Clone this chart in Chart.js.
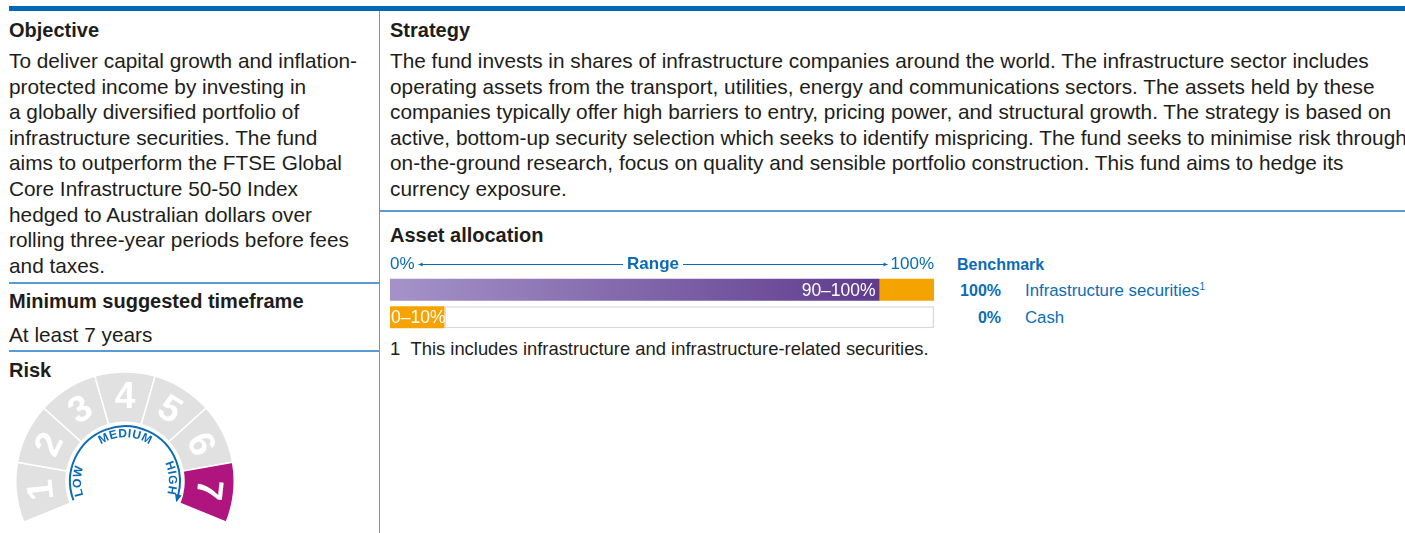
<!DOCTYPE html>
<html>
<head>
<meta charset="utf-8">
<script src="https://cdn.jsdelivr.net/npm/chart.js@4"></script>
<style>
  body { margin: 0; width: 1405px; height: 533px; overflow: hidden; background: #fff;
         font-family: "Liberation Sans", Arial, sans-serif; color: #1d1d1b; position: relative; }
  .a { position: absolute; white-space: nowrap; }
  .h { font-weight: bold; font-size: 20px; line-height: 24px; }
  .t { font-size: 20.8px; line-height: 25.6px; }
  .blue { color: #0b6cb5; }
  .rule { position: absolute; background: #5b9bd5; }
  canvas { position: absolute; }
</style>
</head>
<body>
<div class="a" style="left:9px;top:6px;width:1396px;height:5px;background:#0068b4"></div>
<div class="rule" style="left:379px;top:11px;width:1px;height:522px"></div>

<!-- left column -->
<div class="a h" style="left:9px;top:18px">Objective</div>
<div class="a t" style="left:9px;top:48px">To deliver capital growth and inflation-<br>protected income by investing in<br>a globally diversified portfolio of<br>infrastructure securities. The fund<br>aims to outperform the FTSE Global<br>Core Infrastructure 50-50 Index<br>hedged to Australian dollars over<br>rolling three-year periods before fees<br>and taxes.</div>
<div class="rule" style="left:9px;top:282px;width:370px;height:2px"></div>
<div class="a h" style="left:9px;top:289px">Minimum suggested timeframe</div>
<div class="a t" style="left:9px;top:322px">At least 7 years</div>
<div class="rule" style="left:9px;top:350px;width:370px;height:2px"></div>
<div class="a h" style="left:9px;top:358px">Risk</div>
<canvas id="riskChart" width="220" height="152" style="left:15px;top:371px"></canvas>

<!-- right column -->
<div class="a h" style="left:390px;top:18px">Strategy</div>
<div class="a t" style="left:390px;top:48px">The fund invests in shares of infrastructure companies around the world. The infrastructure sector includes<br>operating assets from the transport, utilities, energy and communications sectors. The assets held by these<br>companies typically offer high barriers to entry, pricing power, and structural growth. The strategy is based on<br>active, bottom-up security selection which seeks to identify mispricing. The fund seeks to minimise risk through<br>on-the-ground research, focus on quality and sensible portfolio construction. This fund aims to hedge its<br>currency exposure.</div>
<div class="rule" style="left:380px;top:210px;width:1025px;height:2px"></div>
<div class="a h" style="left:390px;top:223px">Asset allocation</div>
<canvas id="allocChart" width="570" height="86" style="left:380px;top:250px"></canvas>
<div class="a" style="left:390px;top:338px;font-size:18.4px;line-height:22px">1&nbsp;&nbsp;This includes infrastructure and infrastructure-related securities.</div>

<div id="bench"></div>

<script>
// asset allocation ranges (%)
const categories = ['Infrastructure securities', 'Cash'];
const rangeMin = [90, 0];
const rangeMax = [100, 10];
const rangeLabels = ['90–100%', '0–10%'];
const benchmark = [100, 0];
const footnotes = ['1', ''];

// risk gauge
const riskLevels = ['1', '2', '3', '4', '5', '6', '7'];
const riskSegments = [1, 1, 1, 1, 1, 1, 1];
const fundRisk = 7;
const riskBands = ['LOW', 'MEDIUM', 'HIGH'];

const BLUE = '#0b6cb5';
const ORANGE = '#f5a300';
const FONT = '"Liberation Sans", Arial, sans-serif';

// benchmark table
const bench = document.getElementById('bench');
let html = '<div class="a blue" style="left:957px;top:255px;font-size:16px;line-height:20px;font-weight:bold">Benchmark</div>';
categories.forEach((c, i) => {
    const top = 281 + i * 27;
    html += '<div class="a blue" style="left:950px;width:51px;text-align:right;top:' + top + 'px;font-size:16px;line-height:20px;font-weight:bold">' + benchmark[i] + '%</div>';
    html += '<div class="a blue" style="left:1025px;top:' + top + 'px;font-size:16.8px;line-height:20px">' + c +
        (footnotes[i] ? '<span style="position:relative;top:-6px;font-size:10px">' + footnotes[i] + '</span>' : '') + '</div>';
});
bench.innerHTML = html;

// ---- allocation bars ----
const below = rangeMin.slice();
const band = rangeMax.map((m, i) => m - rangeMin[i]);
const above = rangeMax.map(m => 100 - m);

function purpleGradient(context) {
    const chart = context.chart;
    const area = chart.chartArea;
    if (!area) return '#7b5ba8';
    const x = chart.scales.x;
    const g = chart.ctx.createLinearGradient(area.left, 0, x.getPixelForValue(rangeMin[0]), 0);
    g.addColorStop(0, '#a593c8');
    g.addColorStop(1, '#5f3b8e');
    return g;
}

const rangeHeader = {
    id: 'rangeHeader',
    afterDraw(chart) {
        const ctx = chart.ctx;
        const x = chart.scales.x;
        const y = chart.chartArea.top - 12;
        const left = x.getPixelForValue(0), right = x.getPixelForValue(100);
        ctx.save();
        ctx.fillStyle = BLUE;
        ctx.strokeStyle = BLUE;
        ctx.textBaseline = 'middle';
        ctx.font = '17px ' + FONT;
        ctx.textAlign = 'left';
        ctx.fillText('0%', left, y);
        const lEnd = left + ctx.measureText('0%').width + 4;
        ctx.textAlign = 'right';
        ctx.fillText('100%', right, y);
        const rStart = right - ctx.measureText('100%').width - 3;
        ctx.font = 'bold 17px ' + FONT;
        ctx.textAlign = 'center';
        const mid = (lEnd + rStart) / 2;
        ctx.fillText('Range', mid, y);
        const half = ctx.measureText('Range').width / 2 + 4;
        ctx.lineWidth = 1;
        ctx.beginPath();
        ctx.moveTo(lEnd, y + 0.5); ctx.lineTo(mid - half, y + 0.5);
        ctx.moveTo(mid + half, y + 0.5); ctx.lineTo(rStart, y + 0.5);
        ctx.stroke();
        ctx.beginPath();
        ctx.moveTo(lEnd, y + 0.5); ctx.lineTo(lEnd + 4, y - 1.5); ctx.lineTo(lEnd + 4, y + 2.5); ctx.closePath();
        ctx.moveTo(rStart, y + 0.5); ctx.lineTo(rStart - 4, y - 1.5); ctx.lineTo(rStart - 4, y + 2.5); ctx.closePath();
        ctx.fill();
        ctx.restore();
    }
};

const barLabels = {
    id: 'barLabels',
    afterDatasetsDraw(chart) {
        const ctx = chart.ctx;
        const x = chart.scales.x;
        const y = chart.scales.y;
        ctx.save();
        ctx.fillStyle = '#ffffff';
        ctx.font = '17.5px ' + FONT;
        ctx.textBaseline = 'middle';
        rangeLabels.forEach((lab, i) => {
            const cy = y.getPixelForValue(i) + 1;
            if (rangeMin[i] > 0) {
                ctx.textAlign = 'right';
                ctx.fillText(lab, x.getPixelForValue(rangeMin[i]) - 4, cy);
            } else {
                ctx.textAlign = 'left';
                ctx.fillText(lab, x.getPixelForValue(0) + 1, cy);
            }
        });
        ctx.restore();
    }
};

new Chart(document.getElementById('allocChart'), {
    type: 'bar',
    data: {
        labels: categories,
        datasets: [
            { label: 'below', data: below, backgroundColor: purpleGradient, borderWidth: 0 },
            { label: 'range', data: band, backgroundColor: ORANGE, borderWidth: 0 },
            { label: 'above', data: above, backgroundColor: '#ffffff', borderColor: '#d9d9d9',
              borderWidth: c => (c.raw > 0 ? 1.5 : 0), borderSkipped: false }
        ]
    },
    options: {
        indexAxis: 'y',
        responsive: false,
        animation: false,
        layout: { padding: { top: 26, bottom: 5, left: 10, right: 16 } },
        datasets: { bar: { barPercentage: 0.8, categoryPercentage: 1 } },
        plugins: { legend: { display: false }, tooltip: { enabled: false } },
        scales: {
            x: { stacked: true, min: 0, max: 100, display: false },
            y: { stacked: true, display: false }
        }
    },
    plugins: [rangeHeader, barLabels]
});

// ---- risk gauge ----
function arcText(ctx, text, cx, cy, r, angle) {
    const widths = [...text].map(ch => ctx.measureText(ch).width);
    const total = widths.reduce((a, b) => a + b, 0) + (text.length - 1) * 0.5;
    let a = angle - total / 2 / r;
    [...text].forEach((ch, i) => {
        const w = widths[i];
        const t = a + (w / 2) / r;
        ctx.save();
        ctx.translate(cx + Math.cos(t) * r, cy + Math.sin(t) * r);
        ctx.rotate(t + Math.PI / 2);
        ctx.fillText(ch, 0, 0);
        ctx.restore();
        a += (w + 0.5) / r;
    });
}

const gaugeDecor = {
    id: 'gaugeDecor',
    afterDatasetsDraw(chart) {
        const ctx = chart.ctx;
        const arcs = chart.getDatasetMeta(0).data;
        const cx = arcs[0].x, cy = arcs[0].y;
        const inner = arcs[0].innerRadius, outer = arcs[0].outerRadius;
        ctx.save();
        // numbers
        ctx.fillStyle = '#ffffff';
        ctx.font = 'bold 37px ' + FONT;
        ctx.textAlign = 'center';
        ctx.textBaseline = 'middle';
        arcs.forEach((arc, i) => {
            const t = (arc.startAngle + arc.endAngle) / 2;
            const r = (inner + outer) / 2 + 1;
            ctx.save();
            ctx.translate(cx + Math.cos(t) * r, cy + Math.sin(t) * r);
            ctx.rotate(t + Math.PI / 2);
            ctx.fillText(riskLevels[i], 0, 2);
            ctx.restore();
        });
        // blue arrow arc
        const start = arcs[0].startAngle + 0.03;
        const end = arcs[arcs.length - 1].endAngle - 0.12;
        const ra = inner - 4;
        ctx.strokeStyle = BLUE;
        ctx.fillStyle = BLUE;
        ctx.lineWidth = 2;
        ctx.beginPath();
        ctx.arc(cx, cy, ra, start, end);
        ctx.stroke();
        const ex = cx + Math.cos(end) * ra, ey = cy + Math.sin(end) * ra;
        const dir = end + Math.PI / 2;
        ctx.save();
        ctx.translate(ex, ey);
        ctx.rotate(dir);
        ctx.beginPath();
        ctx.moveTo(7, 0); ctx.lineTo(-1, -3.5); ctx.lineTo(-1, 3.5); ctx.closePath();
        ctx.fill();
        ctx.restore();
        // band labels
        ctx.font = 'bold 12px ' + FONT;
        ctx.textAlign = 'center';
        ctx.textBaseline = 'alphabetic';
        const bandAngles = [Math.PI, -Math.PI / 2, -0.07];
        riskBands.forEach((b, i) => arcText(ctx, b, cx, cy, ra - 11, bandAngles[i]));
        ctx.restore();
    }
};

new Chart(document.getElementById('riskChart'), {
    type: 'doughnut',
    data: {
        labels: riskLevels,
        datasets: [{
            data: riskSegments,
            backgroundColor: riskLevels.map(l => (Number(l) === fundRisk ? '#b0147f' : '#e1e1e1')),
            borderColor: '#ffffff',
            borderWidth: 1.5
        }]
    },
    options: {
        responsive: false,
        animation: false,
        rotation: -112,
        circumference: 224,
        cutout: '54%',
        layout: { padding: 0 },
        plugins: { legend: { display: false }, tooltip: { enabled: false } }
    },
    plugins: [gaugeDecor]
});
</script>
</body>
</html>
